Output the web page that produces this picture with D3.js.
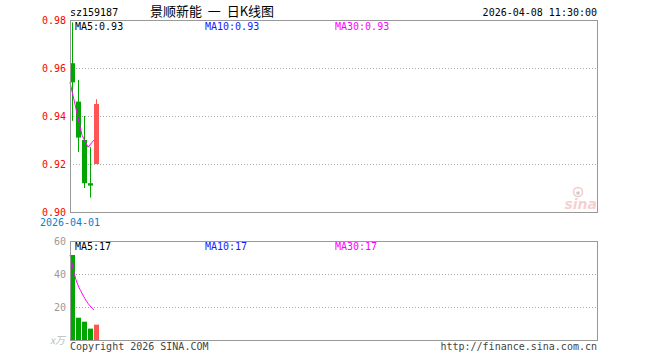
<!DOCTYPE html>
<html>
<head>
<meta charset="utf-8">
<script src="https://cdn.jsdelivr.net/npm/d3@7"></script>
<style>
  body { margin: 0; background: #fff; }
  svg { display: block; }
</style>
</head>
<body>
<div id="kline-chart"></div>
<script>
// Daily candles
const dates = ['2026-04-01', '2026-04-02', '2026-04-03', '2026-04-07', '2026-04-08'];
const opens = [0.962, 0.946, 0.930, 0.912, 0.920];
const closes = [0.954, 0.931, 0.912, 0.911, 0.945];
const highs = [0.979, 0.955, 0.940, 0.927, 0.947];
const lows = [0.938, 0.925, 0.910, 0.906, 0.920];
const priceMa5 = [0.954, 0.943, 0.932, 0.927, 0.930];

// Volume (x万)
const volumes = [51.5, 13.5, 11.1, 6.9, 9.3];
const volumeMa5 = [51.5, 36.5, 28.3, 22.2, 18.2];

const priceTicks = [0.90, 0.92, 0.94, 0.96, 0.98];
const volumeTicks = [20, 40, 60];

const width = 660;
const height = 360;
const left = 70;
const right = 597;
const price = { top: 20, bottom: 212 };
const vol = { top: 241, bottom: 340 };
const slot = 6;
const mono = '"DejaVu Sans Mono", monospace';
const green = '#00a600';
const red = '#ff5555';

const svg = d3.select('#kline-chart')
  .append('svg')
  .attr('width', width)
  .attr('height', height);

const x = d3.scaleLinear()
  .domain([0, 1])
  .range([left, left + slot]);

const yPrice = d3.scaleLinear()
  .domain([0.90, 0.98])
  .range([price.bottom, price.top]);

const yVol = d3.scaleLinear()
  .domain([0, 60])
  .range([vol.bottom, vol.top]);

// Grid lines
function grid(ticks, y, skip) {
  svg.append('g')
    .selectAll('line')
    .data(ticks.filter(t => !skip.includes(t)))
    .join('line')
    .attr('x1', left)
    .attr('x2', right)
    .attr('y1', d => Math.round(y(d)) + 0.5)
    .attr('y2', d => Math.round(y(d)) + 0.5)
    .attr('stroke', '#aaa')
    .attr('stroke-dasharray', '1,2');
}
grid(priceTicks, yPrice, [0.90, 0.98]);
grid(volumeTicks, yVol, [60]);

// Axis labels
svg.append('g')
  .selectAll('text')
  .data(priceTicks)
  .join('text')
  .attr('x', 66)
  .attr('y', d => yPrice(d) + 4)
  .attr('text-anchor', 'end')
  .attr('font-family', mono)
  .attr('font-size', 10)
  .attr('fill', '#f00')
  .text(d => d.toFixed(2));

svg.append('g')
  .selectAll('text')
  .data(volumeTicks)
  .join('text')
  .attr('x', 66)
  .attr('y', d => yVol(d) + 4)
  .attr('text-anchor', 'end')
  .attr('font-family', mono)
  .attr('font-size', 10)
  .attr('fill', '#999')
  .text(d => d);

svg.append('text')
  .attr('x', 65)
  .attr('y', 344)
  .attr('text-anchor', 'end')
  .attr('font-family', '"Noto Sans CJK SC", sans-serif')
  .attr('font-size', 10)
  .attr('font-style', 'italic')
  .attr('fill', '#bbb')
  .text('x万');

// Sina watermark
const logo = svg.append('g').attr('opacity', 0.45);
logo.append('circle')
  .attr('cx', 578).attr('cy', 192).attr('r', 4.5)
  .attr('fill', 'none').attr('stroke', '#e88').attr('stroke-width', 1.5);
logo.append('circle')
  .attr('cx', 578).attr('cy', 193).attr('r', 1.8)
  .attr('fill', '#888');
logo.append('text')
  .attr('x', 597)
  .attr('y', 209)
  .attr('text-anchor', 'end')
  .attr('font-family', '"DejaVu Sans", sans-serif')
  .attr('font-size', 14)
  .attr('font-weight', 'bold')
  .attr('font-style', 'italic')
  .attr('fill', '#e99')
  .text('sina');

// Candles
const candles = svg.append('g');
dates.forEach((d, i) => {
  const up = closes[i] > opens[i];
  const color = up ? red : green;
  const x0 = x(i);
  candles.append('rect')
    .attr('x', x0 + 2)
    .attr('y', yPrice(highs[i]))
    .attr('width', 1)
    .attr('height', yPrice(lows[i]) - yPrice(highs[i]))
    .attr('fill', color);
  const top = yPrice(Math.max(opens[i], closes[i]));
  const bottom = yPrice(Math.min(opens[i], closes[i]));
  candles.append('rect')
    .attr('x', x0)
    .attr('y', top)
    .attr('width', 5)
    .attr('height', Math.max(1.2, bottom - top))
    .attr('fill', color);
});

// Price MA5
svg.append('path')
  .datum(priceMa5)
  .attr('fill', 'none')
  .attr('stroke', '#f0f')
  .attr('stroke-width', 1)
  .attr('d', d3.line().x((d, i) => x(i)).y(d => yPrice(d)));

// Volume bars
svg.append('g')
  .selectAll('rect')
  .data(volumes)
  .join('rect')
  .attr('x', (d, i) => x(i))
  .attr('y', d => yVol(d))
  .attr('width', 5)
  .attr('height', d => yVol(0) - yVol(d))
  .attr('fill', (d, i) => closes[i] > opens[i] ? red : green);

svg.append('path')
  .datum(volumeMa5)
  .attr('fill', 'none')
  .attr('stroke', '#f0f')
  .attr('stroke-width', 1)
  .attr('d', d3.line().x((d, i) => x(i)).y(d => yVol(d)).curve(d3.curveMonotoneX));

// Panel borders
[price, vol].forEach(p => {
  svg.append('rect')
    .attr('x', left + 0.5)
    .attr('y', p.top + 0.5)
    .attr('width', right - left)
    .attr('height', p.bottom - p.top)
    .attr('fill', 'none')
    .attr('stroke', '#999');
});

// Header
function label(txt, xPos, yPos, color, anchor) {
  svg.append('text')
    .attr('x', xPos)
    .attr('y', yPos)
    .attr('text-anchor', anchor || 'start')
    .attr('font-family', mono)
    .attr('font-size', 10)
    .attr('fill', color)
    .text(txt);
}
label('sz159187', 70, 16, '#000');
label('2026-04-08 11:30:00', 597, 16, '#000', 'end');

svg.append('text')
  .attr('x', 150)
  .attr('y', 16)
  .attr('font-family', '"Noto Sans CJK SC", sans-serif')
  .attr('font-size', 13)
  .attr('fill', '#000')
  .attr('xml:space', 'preserve')
  .text('景顺新能  一  日K线图');

label('MA5:0.93', 75, 30, '#000');
label('MA10:0.93', 205, 30, '#1a1aff');
label('MA30:0.93', 335, 30, '#f0f');

label('MA5:17', 75, 250, '#000');
label('MA10:17', 205, 250, '#1a1aff');
label('MA30:17', 335, 250, '#f0f');

label(dates[0], 70, 226, '#0a7fd0', 'middle');

label('Copyright 2026 SINA.COM', 70, 350, '#444');
label('http://finance.sina.com.cn', 597, 350, '#444', 'end');
</script>
</body>
</html>
